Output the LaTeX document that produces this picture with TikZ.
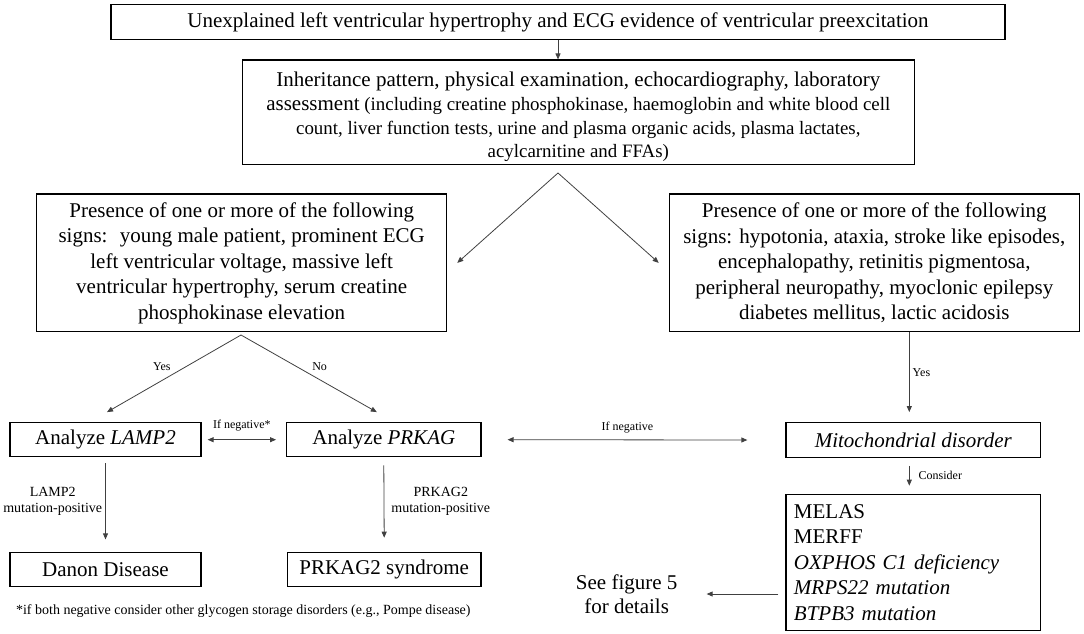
\documentclass[tikz,border=0pt]{standalone}
\usepackage{fontspec}
\setmainfont{Liberation Serif}
\usetikzlibrary{arrows.meta}
\lineskiplimit=-20pt

\begin{document}
\begin{tikzpicture}[->,>={Triangle[length=6pt,width=5pt]},x=1pt,y=-1pt,
	every edge/.append style={draw=black!75,line width=0.8pt}]
	\tikzstyle{box}=[draw=black,line width=1.2pt,align=center,inner sep=0pt,
	  font=\fontsize{21}{25.5}\selectfont]
	\tikzstyle{lbl}=[font=\fontsize{12}{14}\selectfont,inner sep=3pt]
	\tikzstyle{note}=[font=\fontsize{14}{16}\selectfont,inner sep=3pt,align=center]
	\useasboundingbox (0,0) rectangle (1084,634);

	\node[box,minimum width=894,minimum height=34.6] (A) at (558,22)
	  {Unexplained left ventricular hypertrophy and ECG evidence of ventricular preexcitation};
	\node[box,minimum width=672,minimum height=104.3,font=\fontsize{18.9}{23.7}\selectfont] (B) at (578.3,112.2)
	  {{\fontsize{21}{23.7}\selectfont\rule{0pt}{24pt}Inheritance pattern, physical examination, echocardiography, laboratory}\\
	   {\fontsize{21}{23.7}\selectfont assessment} (including creatine phosphokinase, haemoglobin and white blood cell\\
	   count, liver function tests, urine and plasma organic acids, plasma lactates,\\
	   acylcarnitine and FFAs)};
	\node[box,minimum width=410,minimum height=137.7] (C) at (241.7,262.85)
	  {Presence of one or more of the following\\ signs:~ young male patient, prominent ECG\\
	   left ventricular voltage, massive left\\ ventricular hypertrophy, serum creatine\\
	   phosphokinase elevation};
	\node[box,minimum width=410,minimum height=137.7] (D) at (874.3,262.85)
	  {Presence of one or more of the following\\ signs: hypotonia, ataxia, stroke like episodes,\\
	   encephalopathy, retinitis pigmentosa,\\ peripheral neuropathy, myoclonic epilepsy\\
	   diabetes mellitus, lactic acidosis};
	\node[box,minimum width=191,minimum height=34] (E) at (105.5,439.7) {Analyze \textit{LAMP2}};
	\node[box,minimum width=194.3,minimum height=34] (F) at (383.8,439.7) {Analyze \textit{PRKAG}};
	\node[box,minimum width=191,minimum height=34] (G) at (105.5,569.7) {Danon Disease};
	\node[box,minimum width=193.7,minimum height=34] (H) at (384.2,569.7) {PRKAG2 syndrome};
	\node[box,minimum width=254.7,minimum height=34.6] (I) at (913.3,440) {\textit{Mitochondrial disorder}};
	\node[box,minimum width=254.7,minimum height=136.4,text width=238.7,align=left,inner xsep=8pt,
	  font=\fontsize{21}{25.6}\selectfont] (J) at (913.3,562.5)
	  {MELAS\\ MERFF\\ \textit{OXPHOS C1 deficiency}\\ \textit{MRPS22 mutation}\\ \textit{BTPB3 mutation}};
	\node[align=center,inner sep=0pt,font=\fontsize{21}{24.3}\selectfont] (K) at (626.7,594)
	  {See figure 5\\ for details};
	\node[note] (L) at (243.3,610.7)
	  {*if both negative consider other glycogen storage disorders (e.g., Pompe disease)};

	\coordinate (p1) at (558,173);
	\coordinate (p2) at (241,335);

	\path (A.south) edge (A.south |- B.north)
	      (p1) edge ([xshift=10pt]C.east)
	      (p1) edge ([xshift=-10pt]D.west)
	      (p2) edge node[lbl,above left] {Yes} ([xshift=1.5pt,yshift=10pt]E.north)
	      (p2) edge node[lbl,above right] {No} ([xshift=-7pt,yshift=10pt]F.north)
	      ([xshift=-4pt]I.north |- D.south) edge node[lbl,right] {Yes} ([xshift=-4pt,yshift=10pt]I.north)

	      ([xshift=6pt]E.east) edge[<->] node[lbl,above=5pt] {If negative*} ([xshift=-10pt]F.west)
	      ([xshift=26pt]F.east) edge[<->] node[lbl,above=3pt] {If negative} ([xshift=-38pt]I.west)

	      ([yshift=-6pt]E.south) edge node[note,left] {LAMP2\\ mutation-positive} ([yshift=12.7pt]G.north)
	      ([yshift=-8pt]F.south) edge node[note,right=4pt] {PRKAG2\\ mutation-positive} ([yshift=14.4pt]H.north)
	      ([xshift=-4pt,yshift=-8pt]I.south) edge node[lbl,right=6pt] {Consider} ([xshift=-4pt,yshift=8pt]J.north)
	      ([xshift=-7pt]J.west |- K.east) edge ([xshift=29pt]K.east);
\end{tikzpicture}
\end{document}
